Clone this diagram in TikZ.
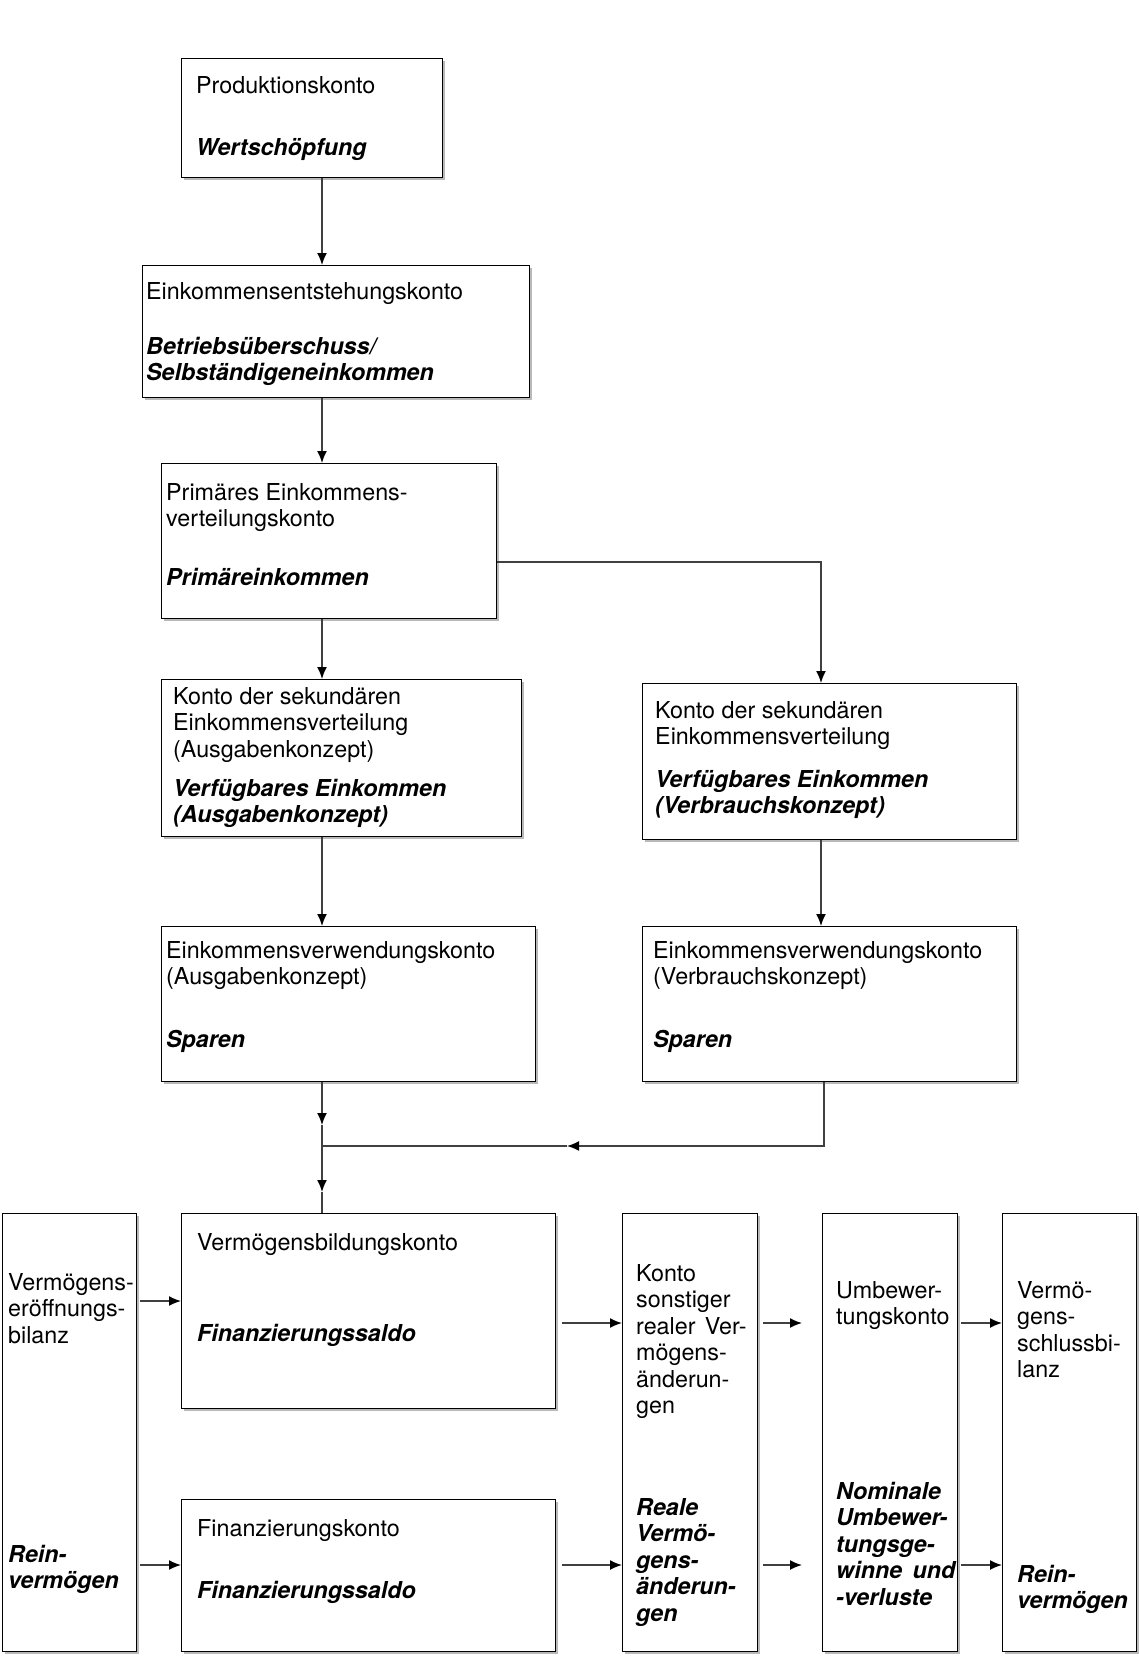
\documentclass[tikz,border=0pt]{standalone}
\usepackage{fontspec}
\setmainfont{TeX Gyre Heros}
\usetikzlibrary{arrows.meta,shadows}
\newcommand{\tl}[1]{\begin{tabular}[t]{@{}l@{}}#1\end{tabular}}
\begin{document}
\begin{tikzpicture}[x=1pt,y=-1pt,
  box/.style={draw=black,line width=1.4pt,fill=white,anchor=north west,inner sep=0pt,
    drop shadow={shadow xshift=2pt,shadow yshift=-2pt,fill=gray!55,opacity=1}},
  txt/.style={inner sep=0pt,anchor=base west,font=\fontsize{23.3}{26.5}\selectfont},
  btxt/.style={txt,font=\fontsize{23.3}{26.5}\selectfont\bfseries\itshape},
  ln/.style={draw=black!75,line width=1.6pt},
  arr/.style={ln,-{Latex[length=12pt,width=10pt]},arrows={-{Latex[length=12pt,width=10pt,color=black]}}}
]
\useasboundingbox (0,0) rectangle (1138,1662);
\fill[white] (0,0) rectangle (1138,1662);

% boxes
\node[box,minimum width=261pt,minimum height=119pt] (b1) at (181,58) {};
\node[box,minimum width=387pt,minimum height=132pt] (b2) at (142,265) {};
\node[box,minimum width=335pt,minimum height=155pt] (b3) at (161,463) {};
\node[box,minimum width=360pt,minimum height=157pt] (b4) at (161,679) {};
\node[box,minimum width=374pt,minimum height=156pt] (b5) at (642,683) {};
\node[box,minimum width=374pt,minimum height=155pt] (b6) at (161,926) {};
\node[box,minimum width=374pt,minimum height=155pt] (b7) at (642,926) {};
\node[box,minimum width=134pt,minimum height=438pt] (ve) at (2,1213) {};
\node[box,minimum width=374pt,minimum height=195pt] (vb) at (181,1213) {};
\node[box,minimum width=374pt,minimum height=152pt] (fk) at (181,1499) {};
\node[box,minimum width=135pt,minimum height=438pt] (ks) at (622,1213) {};
\node[box,minimum width=135pt,minimum height=438pt] (um) at (822,1213) {};
\node[box,minimum width=134pt,minimum height=438pt] (sb) at (1002,1213) {};

% texts
\node[txt] (t1a) at (196,93) {Produktionskonto};
\node[btxt] (t1b) at (196,155) {Wertschöpfung};
\node[txt] (t2a) at (146,299) {Einkommensentstehungskonto};
\node[btxt] (t2b) at (146,354) {\tl{Betriebsüberschuss/\\Selbständigeneinkommen}};
\node[txt] (t3a) at (166,500) {\tl{Primäres Einkommens-\\verteilungskonto}};
\node[btxt] (t3b) at (166,585) {Primäreinkommen};
\node[txt] (t4a) at (173,704) {\tl{Konto der sekundären\\Einkommensverteilung\\(Ausgabenkonzept)}};
\node[btxt] (t4b) at (173,796) {\tl{Verfügbares Einkommen\\(Ausgabenkonzept)}};
\node[txt] (t5a) at (655,718) {\tl{Konto der sekundären\\Einkommensverteilung}};
\node[btxt] (t5b) at (655,787) {\tl{Verfügbares Einkommen\\(Verbrauchskonzept)}};
\node[txt] (t6a) at (166,958) {\tl{Einkommensverwendungskonto\\(Ausgabenkonzept)}};
\node[btxt] (t6b) at (166,1047) {Sparen};
\node[txt] (t7a) at (653,958) {\tl{Einkommensverwendungskonto\\(Verbrauchskonzept)}};
\node[btxt] (t7b) at (653,1047) {Sparen};
\node[txt] (tvea) at (8,1290) {\tl{Vermögens-\\eröffnungs-\\bilanz}};
\node[btxt] (tveb) at (8,1562) {\tl{Rein-\\vermögen}};
\node[txt] (tvba) at (197,1250) {Vermögensbildungskonto};
\node[btxt] (tvbb) at (197,1341) {Finanzierungssaldo};
\node[txt] (tfka) at (197,1536) {Finanzierungskonto};
\node[btxt] (tfkb) at (197,1598) {Finanzierungssaldo};
\node[txt] (tksa) at (636,1281) {\tl{Konto\\sonstiger\\realer\hspace{0.4em}Ver-\\mögens-\\änderun-\\gen}};
\node[btxt] (tksb) at (636,1515) {\tl{Reale\\Vermö-\\gens-\\änderun-\\gen}};
\node[txt] (tuma) at (836,1298) {\tl{Umbewer-\\tungskonto}};
\node[btxt] (tumb) at (836,1499) {\tl{Nominale\\Umbewer-\\tungsge-\\winne\hspace{0.45em}und\\-verluste}};
\node[txt] (tsba) at (1017,1298) {\tl{Vermö-\\gens-\\schlussbi-\\lanz}};
\node[btxt] (tsbb) at (1017,1582) {\tl{Rein-\\vermögen}};

% helper coordinates
\coordinate (cx) at (322,0);
\coordinate (ry) at (0,562);
\coordinate (rx) at (821,0);
\coordinate (rx2) at (824,0);
\coordinate (a1) at (322,1125);
\coordinate (j) at (322,1146);
\coordinate (a2) at (322,1192);
\coordinate (a3) at (567,1146);
\coordinate (y1) at (0,1301);
\coordinate (y2) at (0,1565);
\coordinate (y3) at (0,1323);
\coordinate (e1) at (802,1323);
\coordinate (e2) at (802,1565);

% vertical connectors
\draw[arr] (b1.south -| cx) -- (b2.north -| cx);
\draw[arr] (b2.south -| cx) -- (b3.north -| cx);
\draw[arr] (b3.south -| cx) -- (b4.north -| cx);
\draw[arr] (b3.east |- ry) -| (b5.north -| rx);
\draw[arr] (b4.south -| cx) -- (b6.north -| cx);
\draw[arr] (b5.south -| rx) -- (b7.north -| rx);
\draw[arr] (b6.south -| cx) -- (a1);
\draw[ln] (a1) -- (j);
\draw[arr] (j) -- (a2);
\draw[ln] (a2) -- (vb.north -| cx);
\draw[arr] (b7.south -| rx2) |- (a3);
\draw[ln] (a3) -- (j);

% horizontal connectors
\draw[arr,shorten <=3pt] (ve.east |- y1) -- (vb.west |- y1);
\draw[arr,shorten <=3pt] (ve.east |- y2) -- (fk.west |- y2);
\draw[arr,shorten <=6pt] (vb.east |- y3) -- (ks.west |- y3);
\draw[arr,shorten <=6pt] (fk.east |- y2) -- (ks.west |- y2);
\draw[arr,shorten <=5pt] (ks.east |- y3) -- (e1);
\draw[arr,shorten <=5pt] (ks.east |- y2) -- (e2);
\draw[arr,shorten <=3pt] (um.east |- y3) -- (sb.west |- y3);
\draw[arr,shorten <=3pt] (um.east |- y2) -- (sb.west |- y2);
\end{tikzpicture}
\end{document}
